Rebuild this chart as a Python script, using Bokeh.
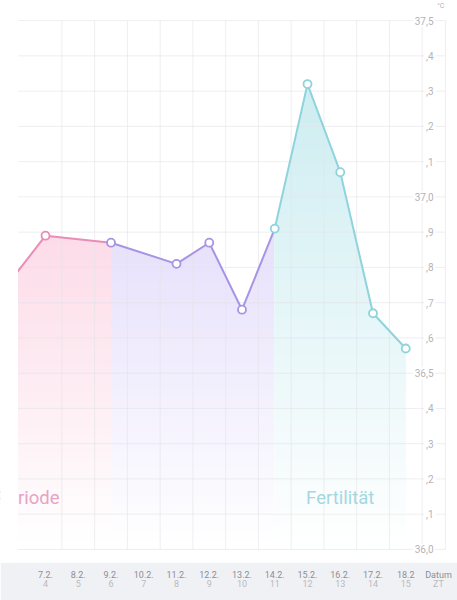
import numpy as np
from bokeh.plotting import figure
from bokeh.models import Range1d, LinearAxis, FixedTicker, ColumnDataSource
from bokeh.core.properties import value
from bokeh.embed import file_html
from bokeh.resources import INLINE

# ---------------- data ----------------
meas_zt = [3, 4, 6, 8, 9, 10, 11, 12, 13, 14, 15]
meas_temp = [36.77, 36.89, 36.87, 36.81, 36.87, 36.68, 36.91, 37.32, 37.07, 36.67, 36.57]
meas_phase = [0, 0, 1, 1, 1, 1, 2, 2, 2, 2, 2]

phase_line_colors = ["#e98cb7", "#a893e5", "#8fd3dc"]
phase_fill_colors = ["#fcdce8", "#e6e0fb", "#cdedf1"]

label_texts = ["Periode", "Fertilität"]
label_zt = [3.47, 13.0]
label_temp = [36.147, 36.147]
label_colors = ["#e6a3c6", "#a3d8df"]

date_ticks = [4, 5, 6, 7, 8, 9, 10, 11, 12, 13, 14, 15, 16]
date_labels = ["7.2.", "8.2.", "9.2.", "10.2.", "11.2.", "12.2.", "13.2.",
               "14.2.", "15.2.", "16.2.", "17.2.", "18.2", "Datum"]
zt_labels = ["4", "5", "6", "7", "8", "9", "10", "11", "12", "13", "14", "15", "ZT"]

y_ticks = [36.0, 36.1, 36.2, 36.3, 36.4, 36.5, 36.6, 36.7, 36.8, 36.9,
           37.0, 37.1, 37.2, 37.3, 37.4, 37.5]
y_labels = ["36,0", ",1", ",2", ",3", ",4", "36,5", ",6", ",7", ",8", ",9",
            "37,0", ",1", ",2", ",3", ",4", "37,5"]
unit_label = "°C"

# ---------------- figure ----------------
X0, X1 = 2.626, 16.580
Y0, Y1 = 35.963, 37.557
CLIP_X = 3.16   # left edge of the visible plotting area
p = figure(width=457, height=600, output_backend="svg", toolbar_location=None,
           x_range=Range1d(X0, X1), y_range=Range1d(Y0, Y1),
           x_axis_location=None, y_axis_location=None,
           min_border_left=0, min_border_right=0, min_border_top=0, min_border_bottom=38)
p.background_fill_color = "white"
p.border_fill_color = "#f0f1f5"
p.outline_line_color = None
p.xgrid.visible = False
p.ygrid.visible = False

zt = np.array(meas_zt, dtype=float)
tt = np.array(meas_temp, dtype=float)
ph = np.array(meas_phase)


def mix(hex_color, f):
    r, g, b = (int(hex_color[i:i + 2], 16) for i in (1, 3, 5))
    r = round(255 + (r - 255) * f)
    g = round(255 + (g - 255) * f)
    b = round(255 + (b - 255) * f)
    return "#%02x%02x%02x" % (r, g, b)


# gradient fills per phase (linear fade from the phase maximum down to 36.0)
N = 36
base = y_ticks[0]
for k in range(3):
    idx = np.where(ph == k)[0]
    i0 = idx[0]
    i1 = idx[-1] if k == 2 else idx[-1] + 1
    xs = np.linspace(zt[i0], zt[i1], 300)
    ys = np.interp(xs, zt, tt)
    top = ys.max()
    for n in range(N):
        t_k = base + (top - base) * n / N
        lo = np.minimum(ys, t_k)
        f = (n + 0.5) / N
        p.varea(x=xs, y1=lo, y2=ys, fill_color=mix(phase_fill_colors[k], f), fill_alpha=1.0)

# grid
grid_x_lo, grid_x_hi = 3.145, 16.21
vx = [b + 0.5 for b in date_ticks[:-1]] + [grid_x_hi]
p.segment(x0=vx, x1=vx, y0=[y_ticks[0]] * len(vx), y1=[y_ticks[-1]] * len(vx),
          line_color="#e3e3e8", line_alpha=0.6, line_width=1)
p.segment(x0=[grid_x_lo] * len(y_ticks), x1=[grid_x_hi] * len(y_ticks), y0=y_ticks, y1=y_ticks,
          line_color="#e3e3e8", line_alpha=0.6, line_width=1)

# lines per phase
for k in range(3):
    idx = np.where(ph == k)[0]
    i1 = min(idx[-1] + 1, len(zt) - 1)
    p.line(zt[idx[0]:i1 + 1], tt[idx[0]:i1 + 1], line_color=phase_line_colors[k], line_width=2)

# markers
src = ColumnDataSource(dict(x=meas_zt, y=meas_temp,
                            c=[phase_line_colors[k] for k in meas_phase]))
p.scatter("x", "y", source=src, size=8, fill_color="white", line_color="c", line_width=1.8)

# phase labels
p.text(x=label_zt, y=label_temp, text=label_texts, text_color=label_colors,
       text_font=value("Roboto"), text_font_size="18.5px", text_align="center",
       text_baseline="alphabetic")

# mask: the original plotting area is clipped at its left edge
p.quad(left=[X0 - 1], right=[CLIP_X], bottom=[Y0 - 1], top=[Y1 + 1],
       fill_color="white", fill_alpha=1.0, line_color=None)

# y tick labels (inside the plot, on the right)
p.text(x=[15.91] * len(y_ticks), y=y_ticks, text=y_labels, text_color="#b3b3b8",
       text_font=value("Roboto"), text_font_size="10px", text_align="right",
       text_baseline="middle", background_fill_color="white", padding=2)
p.text(x=[16.18], y=[Y1 - 0.005], text=[unit_label], text_color="#b3b3b8",
       text_font=value("Roboto"), text_font_size="7px", text_align="right",
       text_baseline="top")

# bottom axes: dates and cycle day
ax1 = LinearAxis(ticker=FixedTicker(ticks=date_ticks),
                 major_label_overrides={t: l for t, l in zip(date_ticks, date_labels)})
ax2 = LinearAxis(ticker=FixedTicker(ticks=date_ticks),
                 major_label_overrides={t: l for t, l in zip(date_ticks, zt_labels)})
for ax, col, so in ((ax1, "#8e8e93", 7), (ax2, "#b9b9be", -4)):
    ax.axis_line_color = None
    ax.major_tick_line_color = None
    ax.minor_tick_line_color = None
    ax.major_tick_out = 0
    ax.major_tick_in = 0
    ax.major_label_standoff = so
    ax.major_label_text_font = "Roboto"
    ax.major_label_text_font_size = "9px"
    ax.major_label_text_color = col
p.add_layout(ax1, "below")
p.add_layout(ax2, "below")

open("out.html", "w").write(file_html(p, INLINE))
